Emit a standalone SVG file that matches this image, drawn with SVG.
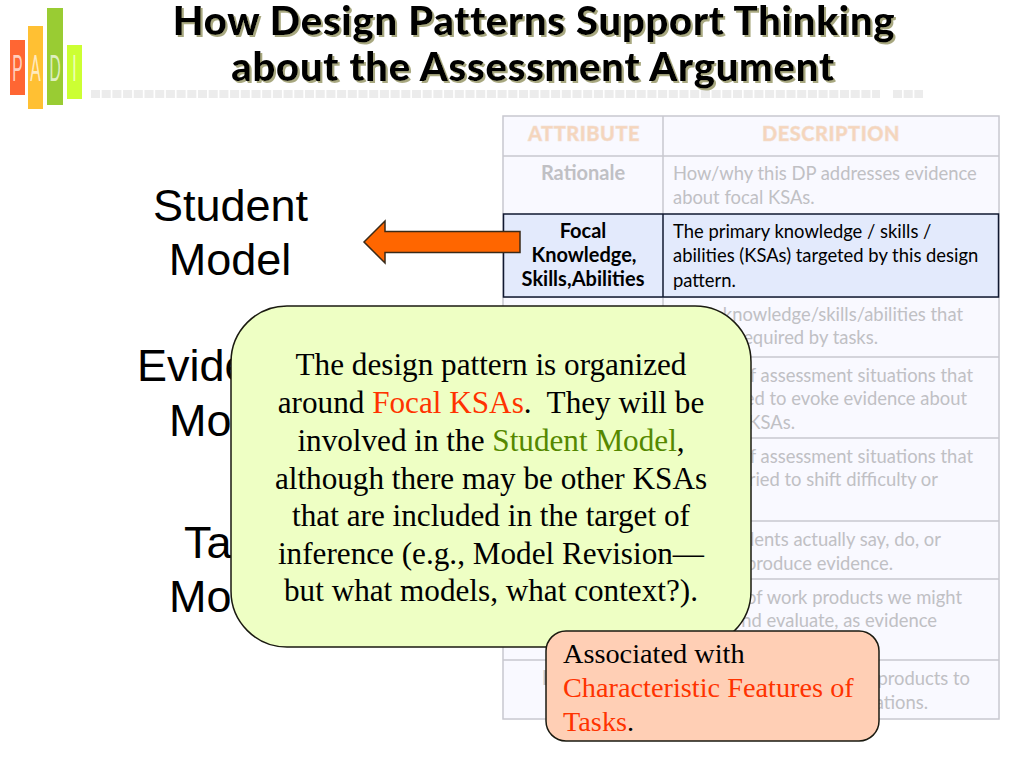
<svg xmlns="http://www.w3.org/2000/svg" width="1024" height="768" viewBox="0 0 1024 768">
<style>
.title{font:900 40px Lato,"Noto Sans",sans-serif;fill:#000;text-anchor:middle;letter-spacing:.75px}
.big{font:45px "Liberation Sans",Arial,sans-serif;fill:#000;text-anchor:middle}
.bigs{font:45px "Liberation Sans",Arial,sans-serif;fill:#000}
.hd{font:900 20px Lato,"Noto Sans",sans-serif;fill:#f6d5bc;stroke:#f0e0d4;stroke-width:.5px;text-anchor:middle;letter-spacing:.5px}
.la{font:bold 20px Lato,"Noto Sans",sans-serif;fill:#c0c0c4;text-anchor:middle}
.lb{font:bold 20px Lato,"Noto Sans",sans-serif;fill:#000;text-anchor:middle}
.d{font:18.400px Lato,"Noto Sans",sans-serif;fill:#c0c0c4}
.de{font:18.400px Lato,"Noto Sans",sans-serif;fill:#c0c0c4;text-anchor:end}
.dk{font:18.400px Lato,"Noto Sans",sans-serif;fill:#000}
.c{font:31.200px "Liberation Serif","Times New Roman",serif;fill:#000;text-anchor:middle;white-space:pre}
.n{font:28.300px "Liberation Serif","Times New Roman",serif;fill:#000}
.rd{fill:#ff3300}
.gr{fill:#558800}
.logo{font:37px "Liberation Sans",Arial,sans-serif;fill:#fff;fill-opacity:.7;text-anchor:middle}
.grid{stroke:#c8c8d0;stroke-width:1.5;fill:none}
</style>
<defs>
<filter id="ts" x="-5%" y="-20%" width="110%" height="140%"><feDropShadow dx="2" dy="2" stdDeviation="0.6" flood-color="#a8a880"/></filter>
</defs>

<g id="logo">
<rect x="10" y="40" width="15" height="55" fill="#ff6633"/>
<rect x="28" y="26" width="15" height="83" fill="#ffc033"/>
<rect x="47" y="8" width="16" height="97" fill="#99cc33"/>
<rect x="67" y="45" width="15" height="54" fill="#ccff33"/>
<text class="logo" transform="translate(17.500 81) scale(.42 1)">P</text>
<text class="logo" transform="translate(35.500 81) scale(.42 1)">A</text>
<text class="logo" transform="translate(55 81) scale(.42 1)">D</text>
<text class="logo" transform="translate(74.500 81) scale(.42 1)">I</text>
</g>

<g id="title-rule">
<line x1="91" y1="94" x2="880" y2="94" stroke="#ececec" stroke-width="8" stroke-dasharray="9 1.700"/>
<line x1="893" y1="94" x2="923" y2="94" stroke="#ececec" stroke-width="8" stroke-dasharray="9 1.700"/>
</g>

<g id="title" filter="url(#ts)">
<text class="title" x="534" y="35">How Design Patterns Support Thinking</text>
<text class="title" x="533" y="81">about the Assessment Argument</text>
</g>

<g id="student-model">
<text class="big" x="230.500" y="221">Student</text>
<text class="big" x="230" y="275">Model</text>
</g>
<g id="evidence-model">
<text class="bigs" x="137" y="381">Evide</text>
<text class="bigs" x="169" y="436">Mo</text>
</g>
<g id="task-model">
<text class="bigs" x="184" y="558">Ta</text>
<text class="bigs" x="169" y="612">Mo</text>
</g>

<g id="table">
<rect x="503" y="116" width="496" height="603" fill="#f9f9ff"/>
<rect class="grid" x="503" y="116" width="496" height="603"/>
<path class="grid" d="M663 116V719M503 156H999M503 297H999M503 357H999M503 438H999M503 521H999M503 579H999M503 660H999"/>
<text class="hd" x="584" y="141">ATTRIBUTE</text>
<text class="hd" x="831" y="141">DESCRIPTION</text>
<text class="la" x="583" y="180">Rationale</text>
<text class="d" x="673" y="180">How/why this DP addresses evidence</text>
<text class="d" x="673" y="204">about focal KSAs.</text>
<g id="focal-row">
<rect x="503.500" y="214" width="495" height="83" fill="#e3eafc" stroke="#101830" stroke-width="1.500"/>
<line x1="663" y1="214" x2="663" y2="297" stroke="#101830" stroke-width="1.500"/>
<text class="lb" x="583" y="238">Focal</text>
<text class="lb" x="584" y="262">Knowledge,</text>
<text class="lb" x="583" y="286" word-spacing="-4">Skills, Abilities</text>
<text class="dk" x="673" y="238">The primary knowledge / skills /</text>
<text class="dk" x="673" y="262">abilities (KSAs) targeted by this design</text>
<text class="dk" x="673" y="287">pattern.</text>
</g>
<text class="de" x="963" y="321">knowledge/skills/abilities that</text>
<text class="de" x="878" y="344">equired by tasks.</text>
<text class="de" x="973" y="382">of assessment situations that</text>
<text class="de" x="967" y="405">ed to evoke evidence about</text>
<text class="de" x="795" y="429">KSAs.</text>
<text class="de" x="973" y="463">of assessment situations that</text>
<text class="de" x="938" y="486">ried to shift difficulty or</text>
<text class="de" x="941" y="546">dents actually say, do, or</text>
<text class="de" x="893" y="570">produce evidence.</text>
<text class="de" x="962" y="604">of work products we might</text>
<text class="de" x="937" y="627">nd evaluate, as evidence</text>
<text class="la" x="545" y="685">I</text>
<text class="de" x="970" y="685">products to</text>
<text class="de" x="928" y="709">ations.</text>
</g>

<g id="connectors">
<path d="M520 231.500H385V221L364 242L385 263V252.500H520Z" fill="#ff6600" stroke="#3a2a18" stroke-width="1.500" stroke-linejoin="miter"/>
</g>

<g id="main-callout">
<rect x="231" y="306" width="520" height="341" rx="56" ry="56" fill="#eeffc4" stroke="#1a1a10" stroke-width="1.500"/>
<text class="c" x="491" y="375">The design pattern is organized</text>
<text class="c" x="491" y="413">around <tspan class="rd">Focal KSAs</tspan>.  They will be</text>
<text class="c" x="491" y="451">involved in the <tspan class="gr">Student Model</tspan>,</text>
<text class="c" x="491" y="489">although there may be other KSAs</text>
<text class="c" x="491" y="526">that are included in the target of</text>
<text class="c" x="491" y="564">inference (e.g., Model Revision—</text>
<text class="c" x="491" y="601">but what models, what context?).</text>
</g>

<g id="note-callout">
<rect x="546" y="631" width="333" height="110" rx="20" ry="20" fill="#ffcfb5" stroke="#1a1a10" stroke-width="1.500"/>
<text class="n" x="563" y="663">Associated with</text>
<text class="n rd" x="563" y="697">Characteristic Features of</text>
<text class="n" x="563" y="731"><tspan class="rd">Tasks</tspan>.</text>
</g>
</svg>
